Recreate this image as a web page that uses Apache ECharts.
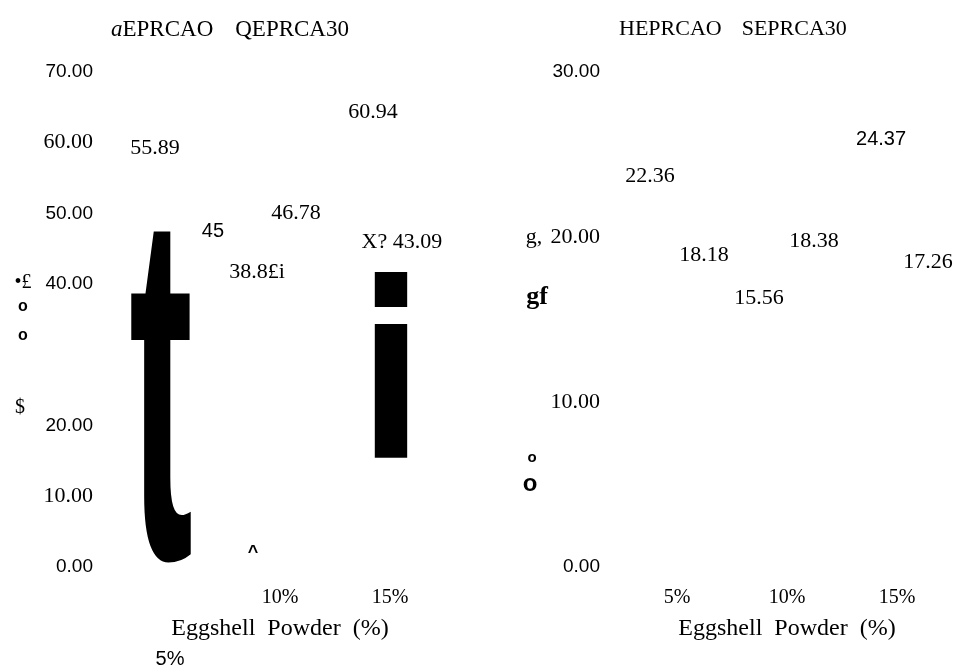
<!DOCTYPE html>
<html>
<head>
<meta charset="utf-8">
<script src="https://cdn.jsdelivr.net/npm/echarts@6/dist/echarts.min.js"></script>
<style>html,body{margin:0;padding:0;background:#fff;}#c{width:956px;height:666px;}</style>
</head>
<body>
<div id="c"></div>
<script>
// ---- data ----
const categories = ['5%', '10%', '15%'];
const leftNames = ['aEPRCAO', 'QEPRCA30'];
const rightNames = ['HEPRCAO', 'SEPRCA30'];
const eprca0 = [55.89, 38.81, 60.94];
const eprca30 = [45, 46.78, 43.09];
const heprca0 = [22.36, 15.56, 24.37];
const seprca30 = [18.18, 18.38, 17.26];
const eprca0Text = ['55.89', '38.8£i', '60.94'];
const eprca30Text = ['45', '46.78', 'X? 43.09'];
const heprca0Text = ['22.36', '15.56', '24.37'];
const seprca30Text = ['18.18', '18.38', '17.26'];
const leftTicks = [0, 10, 20, 40, 50, 60, 70];
const rightTicks = [0, 10, 20, 30];
const xName = 'Eggshell  Powder  (%)';

// ---- styles ----
const SERIF = '"Liberation Serif", "Times New Roman", serif';
const SANS = '"Liberation Sans", Arial, sans-serif';
const leftTickFont = {0: 's', 10: 'r', 20: 's', 40: 's', 50: 's', 60: 'r', 70: 's'};
const rightTickFont = {0: 's', 10: 'r', 20: 'r', 30: 's'};
// label tweaks: [font, dx, dy]
const eprca0Tw = [['r', 5, -8], ['r', -3, -4], ['r', 3, -8]];
const eprca30Tw = [['s', 23, -2], ['r', -4, -7], ['r', -8, -4]];
const heprca0Tw = [['r', -7, -6], ['r', -8, 4], ['s', 4, -10]];
const seprca30Tw = [['r', 7, 4], ['r', 7, -7], ['r', 11, -4]];

function items(vals, texts, tw) {
  return vals.map((v, i) => ({
    value: v,
    label: {
      formatter: texts[i],
      fontFamily: tw[i][0] === 'r' ? SERIF : SANS,
      fontSize: tw[i][0] === 'r' ? 22 : 20,
      offset: [tw[i][1], tw[i][2]]
    }
  }));
}
function barSeries(name, idx, data) {
  return {
    type: 'bar', name: name, xAxisIndex: idx, yAxisIndex: idx,
    barWidth: 30, barGap: '33%',
    itemStyle: {color: 'rgba(0,0,0,0)'},
    label: {show: true, position: 'top', distance: 5, color: '#000'},
    data: data
  };
}
const rich = {
  r: {fontFamily: SERIF, fontSize: 22, color: '#000'},
  s: {fontFamily: SANS, fontSize: 19, color: '#000'}
};
function yAxis(gi, max, ticks, fontMap) {
  return {
    type: 'value', gridIndex: gi, min: 0, max: max, interval: 10,
    axisLine: {show: false}, axisTick: {show: false}, splitLine: {show: false},
    axisLabel: {
      margin: 22,
      formatter: v => ticks.indexOf(v) < 0 ? '' : '{' + fontMap[v] + '|' + v.toFixed(2) + '}',
      rich: rich
    }
  };
}
function xAxis(gi, shiftFirst) {
  return {
    type: 'category', gridIndex: gi,
    data: categories.map((c, i) => (shiftFirst && i === 0) ?
      {value: c, textStyle: {fontFamily: SANS, fontSize: 20, padding: [61, 0, 0, 0]}} : c),
    axisLine: {show: false}, axisTick: {show: false}, splitLine: {show: false},
    axisLabel: {margin: 21, fontFamily: SERIF, fontSize: 20, color: '#000'},
    name: xName, nameLocation: 'middle', nameGap: 50, nameMoveOverlap: false,
    nameTextStyle: {fontFamily: SERIF, fontSize: 24, color: '#000'}
  };
}
function legend(left, names, gap, size) {
  return {
    left: left, top: 13, itemWidth: 0, itemHeight: 0, itemGap: gap,
    icon: 'rect', data: names, selectedMode: false,
    formatter: n => n.charAt(0) === 'a' ? '{i|a}' + n.slice(1) : n,
    textStyle: {fontFamily: SERIF, fontSize: size, color: '#000',
      rich: {i: {fontFamily: SERIF, fontStyle: 'italic', fontSize: size, color: '#000'}}}
  };
}
function glyph(text, x, y, font, sx, sy) {
  return {type: 'text', x: x, y: y, scaleX: sx, scaleY: sy, silent: true,
    style: {text: text, font: font, fill: '#000', textAlign: 'center', textVerticalAlign: 'middle',
      align: 'center', verticalAlign: 'middle'}};
}

const chart = echarts.init(document.getElementById('c'), null, {renderer: 'canvas'});
chart.setOption({
  backgroundColor: '#fff',
  animation: false,
  legend: [legend(101, leftNames, 17, 23), legend(609, rightNames, 15, 22)],
  grid: [
    {left: 115, width: 330, top: 72, bottom: 99, outerBoundsMode: 'none', containLabel: false},
    {left: 622, width: 330, top: 72, bottom: 99, outerBoundsMode: 'none', containLabel: false}
  ],
  xAxis: [xAxis(0, true), xAxis(1, false)],
  yAxis: [yAxis(0, 70, leftTicks, leftTickFont), yAxis(1, 30, rightTicks, rightTickFont)],
  series: [
    barSeries(leftNames[0], 0, items(eprca0, eprca0Text, eprca0Tw)),
    barSeries(leftNames[1], 0, items(eprca30, eprca30Text, eprca30Tw)),
    barSeries(rightNames[0], 1, items(heprca0, heprca0Text, heprca0Tw)),
    barSeries(rightNames[1], 1, items(seprca30, seprca30Text, seprca30Tw))
  ],
  graphic: [
    glyph('t', 161, 420, 'bold 200px "Liberation Sans"', 0.963, 2.504),
    glyph('i', 391, 394, 'bold 220px "DejaVu Sans"', 0.842, 1.112),
    glyph('•£', 23, 283, '20px "Liberation Serif"', 1, 1),
    glyph('o', 23, 307, 'bold 16px "Liberation Sans"', 1, 1),
    glyph('o', 23, 336, 'bold 16px "Liberation Sans"', 1, 1),
    glyph('$', 20, 408, '20px "Liberation Serif"', 1, 1),
    glyph('^', 253, 553, 'bold 18px "Liberation Sans"', 1, 1),
    glyph('g,', 534, 237, '22px "Liberation Serif"', 1, 1),
    glyph('gf', 537, 297, 'bold 26px "Liberation Serif"', 1, 1),
    glyph('o', 532, 458, 'bold 15px "Liberation Sans"', 1, 1),
    glyph('o', 530, 484, 'bold 24px "Liberation Sans"', 1, 1)
  ]
});
</script>
</body>
</html>
